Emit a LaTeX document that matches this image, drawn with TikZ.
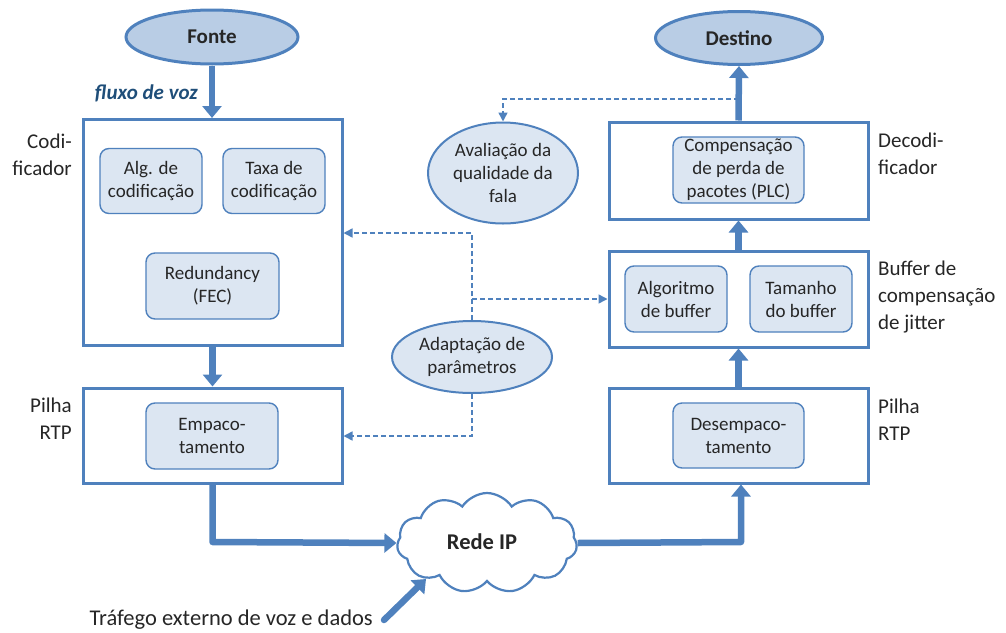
\documentclass[tikz,border=0pt]{standalone}
\usepackage{fontspec}
\setmainfont{Carlito}
\usetikzlibrary{arrows.meta,shapes.geometric,shapes.symbols}
\definecolor{lineblue}{HTML}{4F81BD}
\definecolor{fillmid}{HTML}{B9CDE5}
\definecolor{filllight}{HTML}{DCE6F2}
\definecolor{txt}{HTML}{262626}
\definecolor{flow}{HTML}{1F4E79}
\tikzset{
  x=1pt, y=-1pt,
  every node/.style={text=txt},
  bigbox/.style={draw=lineblue, line width=3pt, fill=white, inner sep=0pt},
  subbox/.style={draw=lineblue, line width=1.4pt, fill=filllight, rounded corners=9pt,
    align=center, inner sep=0pt, font=\fontsize{19}{23}\selectfont},
  endpoint/.style={ellipse, draw=lineblue, line width=3pt, fill=fillmid, inner sep=0pt,
    font=\fontsize{21}{25}\selectfont\bfseries},
  ctrl/.style={ellipse, draw=lineblue, line width=2pt, fill=filllight, inner sep=0pt,
    align=center, font=\fontsize{19}{23}\selectfont},
  sidelabel/.style={font=\fontsize{21}{27}\selectfont, inner sep=0pt},
  flowline/.style={draw=lineblue, line width=6.5pt, line join=round,
    -{Triangle[length=12pt,width=19pt]}},
  ctrlline/.style={draw=lineblue, line width=1.5pt, dash pattern=on 5pt off 3pt,
    -{Triangle[length=9pt,width=9pt]}},
}
\begin{document}
\begin{tikzpicture}
\useasboundingbox (0,0) rectangle (1006,632);

% end points
\node[endpoint, minimum width=172, minimum height=54] (fonte) at (212,37) {Fonte};
\node[endpoint, minimum width=167, minimum height=53] (dest) at (739,38) {Destino};

% sender side
\node[bigbox, minimum width=259, minimum height=226] (enc) at (212.5,232.5) {};
\node[subbox, minimum width=102, minimum height=65] (alg) at (151,181) {Alg. de\\codificação};
\node[subbox, minimum width=102, minimum height=65] (taxa) at (274,181) {Taxa de\\codificação};
\node[subbox, minimum width=133, minimum height=66] (fec) at (212.5,286) {Redundancy\\(FEC)};
\node[sidelabel, anchor=east, align=right] (lenc) at (72,155) {Codi-\\ficador};

\node[bigbox, minimum width=259, minimum height=95] (rtpL) at (212.5,435.5) {};
\node[subbox, minimum width=132, minimum height=66] (emp) at (212,436) {Empaco-\\tamento};
\node[sidelabel, anchor=east, align=right] (lrtpL) at (72,419) {Pilha\\RTP};

% receiver side
\node[bigbox, minimum width=259, minimum height=97] (dec) at (738.5,170.5) {};
\node[subbox, minimum width=131, minimum height=66] (plc) at (738.5,170) {Compensação\\de perda de\\pacotes (PLC)};
\node[sidelabel, anchor=west, align=left] (ldec) at (878,154) {Decodi-\\ficador};

\node[bigbox, minimum width=259, minimum height=96] (jit) at (738.5,299) {};
\node[subbox, minimum width=102, minimum height=66] (balg) at (676,299) {Algoritmo\\de buffer};
\node[subbox, minimum width=102, minimum height=66] (btam) at (801,299) {Tamanho\\do buffer};
\node[sidelabel, anchor=west, align=left] (ljit) at (878,297) {Buffer de\\compensação\\de jitter};

\node[bigbox, minimum width=259, minimum height=95] (rtpR) at (738.5,435.5) {};
\node[subbox, minimum width=131, minimum height=65] (desemp) at (738.5,435.5) {Desempaco-\\tamento};
\node[sidelabel, anchor=west, align=left] (lrtpR) at (878,420) {Pilha\\RTP};

% control
\node[ctrl, minimum width=150, minimum height=101] (aval) at (503,173) {Avaliação da\\qualidade da\\fala};
\node[ctrl, minimum width=160, minimum height=72] (adap) at (472,357) {Adaptação de\\parâmetros};

% network
\node[cloud, draw=lineblue, line width=2.2pt, fill=white, cloud puffs=11, cloud puff arc=115,
  aspect=1.9, minimum width=180, minimum height=100, inner sep=0pt] (net) at (487,543) {};
\node[inner sep=0pt, font=\fontsize{22.5}{26}\selectfont\bfseries] (netlbl) at (482,542) {Rede IP};
\node[sidelabel, anchor=east, font=\fontsize{22.5}{27}\selectfont] (traf) at (373,620) {Tráfego externo de voz e dados};

% voice flow
\draw[flowline] (fonte) -- (enc.north -| fonte);
\node[anchor=east, inner sep=0pt, text=flow, font=\fontsize{21}{25}\selectfont\bfseries\itshape]
  (flx) at (198,93) {fluxo de voz};
\draw[flowline] (enc.south) -- (rtpL.north);
\coordinate (cL) at (212.5,542);
\coordinate (cR) at (741,542);
\draw[flowline] (rtpL.south) -- (cL) -- (net.west);
\draw[flowline] (net.east) -- (cR) -- (rtpR.south -| cR);
\draw[flowline] (rtpR.north) -- (jit.south);
\draw[flowline] (jit.north) -- (dec.south);
\draw[flowline] (dec.north) -- (dest.south);
\coordinate (tin) at (426,579);
\coordinate (tout) at (384,620);
\draw[flowline, line cap=round] (tout) -- (tin);

% control paths
\coordinate (tap) at (739,99);
\coordinate (tapL) at (503,99);
\draw[ctrlline] (tap) -- (tapL) -- (aval.north);
\coordinate (j1) at (472,233);
\coordinate (j2) at (472,299);
\coordinate (j3) at (472,436);
\draw[ctrlline] (adap.north) -- (j1) -- (enc.east |- j1);
\draw[ctrlline] (j2) -- (jit.west |- j2);
\draw[ctrlline] (adap.south) -- (j3) -- (rtpL.east |- j3);
\end{tikzpicture}
\end{document}
